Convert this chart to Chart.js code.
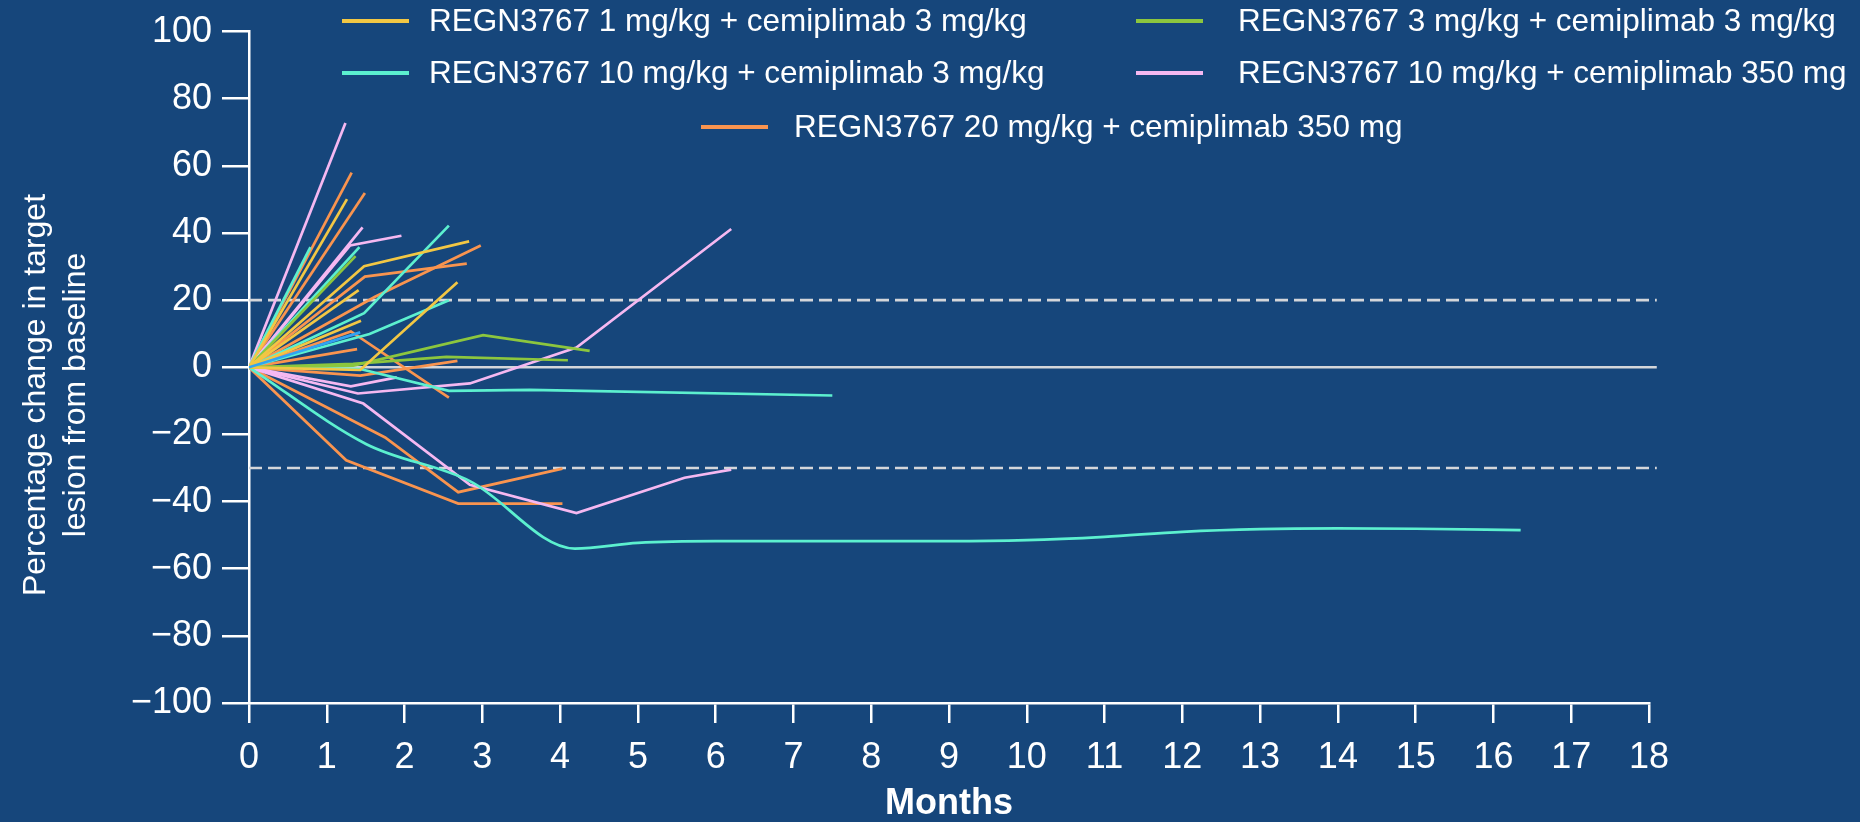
<!DOCTYPE html>
<html>
<head>
<meta charset="utf-8">
<style>
  html, body { margin: 0; padding: 0; background: #16467b; }
  #wrap { width: 1860px; height: 822px; position: relative; }
</style>
<script src="https://cdn.jsdelivr.net/npm/chart.js@4/dist/chart.umd.min.js"></script>
</head>
<body>
<div id="wrap"><canvas id="spider"></canvas></div>
<script>
// each patient: [month, % change from baseline]
const cohort1mg = [
    [[0,0],[1.26,50.1]],
    [[0,0],[1.48,30.1],[2.83,37.5]],
    [[0,0],[1.41,23.0]],
    [[0,0],[1.44,13.9]],
    [[0,0],[1.43,-0.8],[2.68,25.3]]
];
const cohort3mg = [
    [[0,0],[1.37,33.1]],
    [[0,0],[1.34,0.5],[3.01,9.6],[4.38,4.9]],
    [[0,0],[1.34,1.0],[2.54,3.1],[4.10,2.1]]
];
const cohort10mg = [
    [[0,0],[0.79,35.8]],
    [[0,0],[1.42,35.8]],
    [[0,0],[1.48,16.1],[2.57,42.2]],
    [[0,0],[1.55,9.9],[2.57,20.0]],
    [[0,0],[1.43,-0.5],[2.57,-7.0],[3.61,-6.7],[7.5,-8.4]],
    [[0,0],[1.51,-22.9],[2.84,-33.9],[4.19,-54.0],[5.0,-52.3],[6.0,-51.8],[9.0,-51.8],[10.0,-51.5],[11.0,-50.5],[12.0,-49.0],[13.0,-48.2],[14.0,-48.0],[15.0,-48.1],[16.35,-48.5]]
];
const cohort10mg350 = [
    [[0,0],[1.24,72.8]],
    [[0,0],[1.46,41.7]],
    [[0,0],[1.30,36.3],[1.96,39.2]],
    [[0,0],[1.31,-5.7],[1.9,-3.0]],
    [[0,0],[1.40,-7.8],[2.84,-4.8],[4.21,5.9],[6.2,41.2]],
    [[0,0],[1.47,-10.8],[2.84,-35.0],[4.21,-43.4],[5.6,-32.9],[6.2,-30.5]]
];
const cohort20mg350 = [
    [[0,0],[1.32,58.0]],
    [[0,0],[1.49,51.9]],
    [[0,0],[1.49,27.0],[2.80,30.9]],
    [[0,0],[1.62,21.0],[2.98,36.3]],
    [[0,0],[1.31,10.7],[2.57,-9.0]],
    [[0,0],[1.39,5.4]],
    [[0,0],[1.43,-2.5],[2.68,1.9]],
    [[0,0],[1.75,-20.9],[2.69,-37.2],[4.03,-30.2]],
    [[0,0],[1.25,-27.7],[2.69,-40.6],[4.03,-40.6]]
];
const otherPatients = [
    [[0,0],[1.43,10.4]]
];

const cohortLabels = [
    "REGN3767 1 mg/kg + cemiplimab 3 mg/kg",
    "REGN3767 3 mg/kg + cemiplimab 3 mg/kg",
    "REGN3767 10 mg/kg + cemiplimab 3 mg/kg",
    "REGN3767 10 mg/kg + cemiplimab 350 mg",
    "REGN3767 20 mg/kg + cemiplimab 350 mg"
];
const cohortColors = ["#f2c744", "#8cc63e", "#5cf0cf", "#f5b8f1", "#f9944f"];
const otherColor = "#31a3f2";

const refLevels = [20, 0, -30];
const refSpan = [0, 18.1];
const monthTicks = [0, 18];
const pctTicks = [-100, 100];

const yTitle = ["Percentage change in target", "lesion from baseline"];

// legend placement (px): swatch start, text start, row centre
const legendSlots = [
    [342, 429, 21], [1136, 1238, 21],
    [342, 429, 73], [1136, 1238, 73],
    [701, 794, 127]
];

const cohorts = [cohort1mg, cohort3mg, cohort10mg, cohort10mg350, cohort20mg350];

function lineSets(lines, color) {
    return lines.map(l => ({
        data: l.map(p => ({ x: p[0], y: p[1] })),
        borderColor: color,
        borderWidth: 2.7,
        pointRadius: 0,
        fill: false,
        cubicInterpolationMode: l.length > 8 ? 'monotone' : 'default',
        order: 1
    }));
}

let datasets = [];
refLevels.forEach(lv => {
    datasets.push({
        data: refSpan.map(x => ({ x: x, y: lv })),
        borderColor: "#d4d6da",
        borderWidth: 2.6,
        borderDash: lv === 0 ? [] : [13, 6],
        pointRadius: 0,
        clip: false,
        order: 10
    });
});
datasets = datasets.concat(lineSets(otherPatients, otherColor));
cohorts.forEach((c, i) => { datasets = datasets.concat(lineSets(c, cohortColors[i])); });

const decor = {
    id: 'decor',
    afterDraw(chart) {
        const ctx = chart.ctx;
        ctx.save();
        ctx.fillStyle = "#ffffff";
        ctx.font = "31.5px 'Liberation Sans', Arial, sans-serif";
        ctx.textBaseline = "middle";
        cohortLabels.forEach((lab, i) => {
            const s = legendSlots[i];
            ctx.strokeStyle = cohortColors[i];
            ctx.lineWidth = 4;
            ctx.beginPath();
            ctx.moveTo(s[0], s[2]);
            ctx.lineTo(s[0] + 67, s[2]);
            ctx.stroke();
            ctx.fillText(lab, s[1], s[2] + 1);
        });
        // y axis title, two lines
        ctx.translate(0, 395);
        ctx.rotate(-Math.PI / 2);
        ctx.textAlign = "center";
        ctx.font = "32px 'Liberation Sans', Arial, sans-serif";
        ctx.fillText(yTitle[0], 0, 36);
        ctx.fillText(yTitle[1], 0, 76);
        ctx.restore();
    }
};

new Chart(document.getElementById("spider"), {
    type: 'line',
    data: { datasets: datasets },
    options: {
        responsive: true,
        maintainAspectRatio: false,
        animation: false,
        devicePixelRatio: 1,
        layout: { padding: { top: 31, right: 211, left: 0, bottom: 0 } },
        plugins: { legend: { display: false }, tooltip: { enabled: false } },
        scales: {
            x: {
                type: 'linear',
                min: monthTicks[0],
                max: monthTicks[1],
                ticks: {
                    stepSize: 1,
                    color: "#ffffff",
                    padding: 17,
                    font: { family: "'Liberation Sans', Arial", size: 36, lineHeight: 1 }
                },
                grid: { drawOnChartArea: false, color: "#ffffff", lineWidth: 2.5, tickLength: 20 },
                border: { color: "#ffffff", width: 2.5 },
                title: {
                    display: true,
                    text: "Months",
                    color: "#ffffff",
                    font: { family: "'Liberation Sans', Arial", size: 36, weight: 'bold', lineHeight: 1 },
                    padding: { top: 0, bottom: 0 }
                },
                afterFit(s) { s.height = 119; }
            },
            y: {
                min: pctTicks[0],
                max: pctTicks[1],
                ticks: {
                    stepSize: 20,
                    color: "#ffffff",
                    padding: 10,
                    font: { family: "'Liberation Sans', Arial", size: 36 },
                    callback: v => v < 0 ? "\u2212" + Math.abs(v) : String(v)
                },
                grid: { drawOnChartArea: false, color: "#ffffff", lineWidth: 2.5, tickLength: 27 },
                border: { color: "#ffffff", width: 2.5 },
                afterFit(s) { s.width = 249; }
            }
        }
    },
    plugins: [decor]
});
</script>
</body>
</html>
